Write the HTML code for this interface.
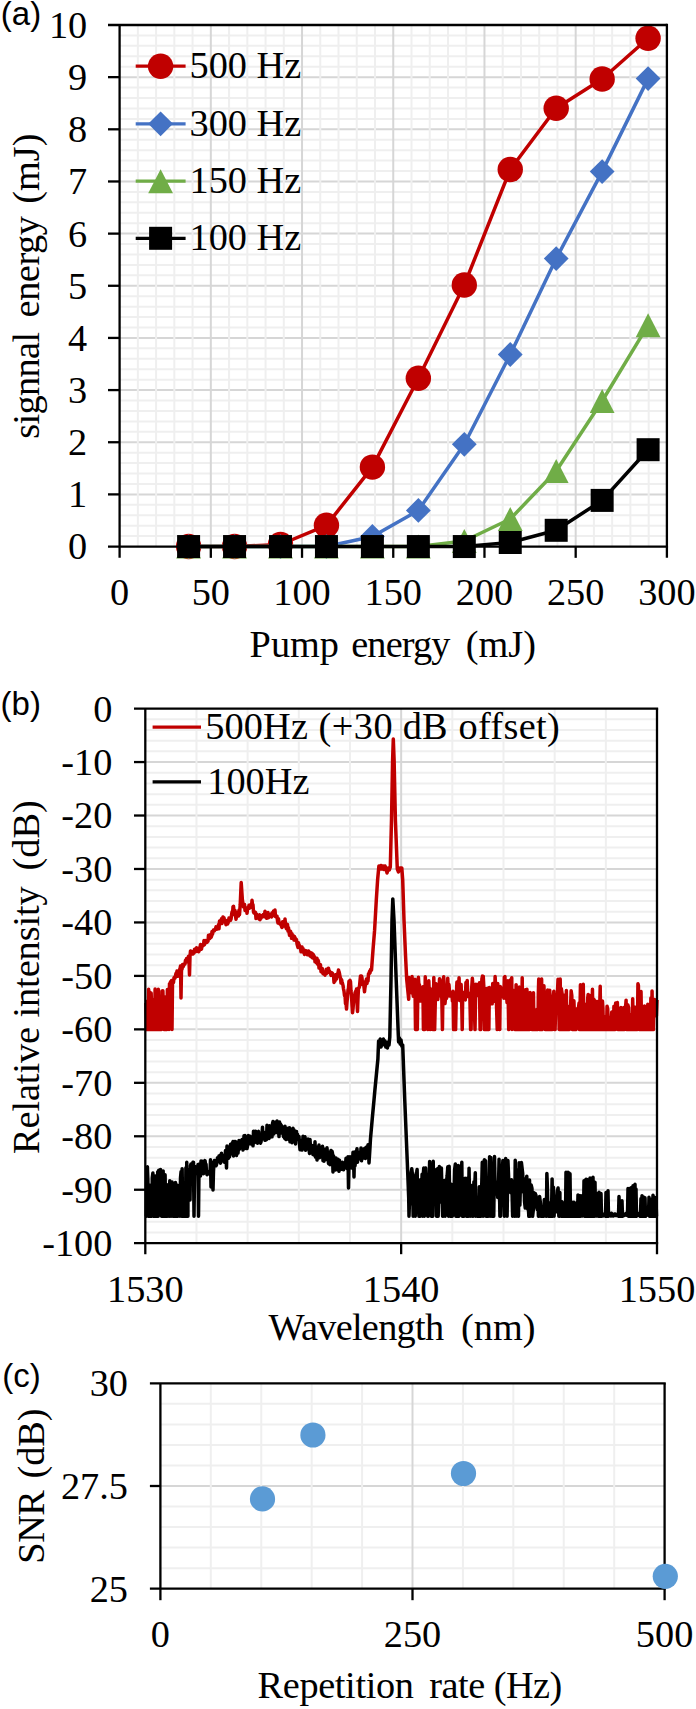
<!DOCTYPE html>
<html><head><meta charset="utf-8"><style>
html,body{margin:0;padding:0;background:#fff;width:696px;height:1709px;overflow:hidden}
svg{display:block}
text{fill:#000}
</style></head><body>
<svg width="696" height="1709" viewBox="0 0 696 1709">
<rect width="696" height="1709" fill="#fff"/>
<line x1="119.6" y1="536.12" x2="666.9" y2="536.12" stroke="#efefef" stroke-width="2.0" stroke-linecap="butt"/>
<line x1="119.6" y1="525.69" x2="666.9" y2="525.69" stroke="#efefef" stroke-width="2.0" stroke-linecap="butt"/>
<line x1="119.6" y1="515.26" x2="666.9" y2="515.26" stroke="#efefef" stroke-width="2.0" stroke-linecap="butt"/>
<line x1="119.6" y1="504.83" x2="666.9" y2="504.83" stroke="#efefef" stroke-width="2.0" stroke-linecap="butt"/>
<line x1="119.6" y1="483.96" x2="666.9" y2="483.96" stroke="#efefef" stroke-width="2.0" stroke-linecap="butt"/>
<line x1="119.6" y1="473.53" x2="666.9" y2="473.53" stroke="#efefef" stroke-width="2.0" stroke-linecap="butt"/>
<line x1="119.6" y1="463.1" x2="666.9" y2="463.1" stroke="#efefef" stroke-width="2.0" stroke-linecap="butt"/>
<line x1="119.6" y1="452.67" x2="666.9" y2="452.67" stroke="#efefef" stroke-width="2.0" stroke-linecap="butt"/>
<line x1="119.6" y1="431.81" x2="666.9" y2="431.81" stroke="#efefef" stroke-width="2.0" stroke-linecap="butt"/>
<line x1="119.6" y1="421.38" x2="666.9" y2="421.38" stroke="#efefef" stroke-width="2.0" stroke-linecap="butt"/>
<line x1="119.6" y1="410.95" x2="666.9" y2="410.95" stroke="#efefef" stroke-width="2.0" stroke-linecap="butt"/>
<line x1="119.6" y1="400.52" x2="666.9" y2="400.52" stroke="#efefef" stroke-width="2.0" stroke-linecap="butt"/>
<line x1="119.6" y1="379.65" x2="666.9" y2="379.65" stroke="#efefef" stroke-width="2.0" stroke-linecap="butt"/>
<line x1="119.6" y1="369.22" x2="666.9" y2="369.22" stroke="#efefef" stroke-width="2.0" stroke-linecap="butt"/>
<line x1="119.6" y1="358.79" x2="666.9" y2="358.79" stroke="#efefef" stroke-width="2.0" stroke-linecap="butt"/>
<line x1="119.6" y1="348.36" x2="666.9" y2="348.36" stroke="#efefef" stroke-width="2.0" stroke-linecap="butt"/>
<line x1="119.6" y1="327.5" x2="666.9" y2="327.5" stroke="#efefef" stroke-width="2.0" stroke-linecap="butt"/>
<line x1="119.6" y1="317.07" x2="666.9" y2="317.07" stroke="#efefef" stroke-width="2.0" stroke-linecap="butt"/>
<line x1="119.6" y1="306.64" x2="666.9" y2="306.64" stroke="#efefef" stroke-width="2.0" stroke-linecap="butt"/>
<line x1="119.6" y1="296.21" x2="666.9" y2="296.21" stroke="#efefef" stroke-width="2.0" stroke-linecap="butt"/>
<line x1="119.6" y1="275.34" x2="666.9" y2="275.34" stroke="#efefef" stroke-width="2.0" stroke-linecap="butt"/>
<line x1="119.6" y1="264.91" x2="666.9" y2="264.91" stroke="#efefef" stroke-width="2.0" stroke-linecap="butt"/>
<line x1="119.6" y1="254.48" x2="666.9" y2="254.48" stroke="#efefef" stroke-width="2.0" stroke-linecap="butt"/>
<line x1="119.6" y1="244.05" x2="666.9" y2="244.05" stroke="#efefef" stroke-width="2.0" stroke-linecap="butt"/>
<line x1="119.6" y1="223.19" x2="666.9" y2="223.19" stroke="#efefef" stroke-width="2.0" stroke-linecap="butt"/>
<line x1="119.6" y1="212.76" x2="666.9" y2="212.76" stroke="#efefef" stroke-width="2.0" stroke-linecap="butt"/>
<line x1="119.6" y1="202.33" x2="666.9" y2="202.33" stroke="#efefef" stroke-width="2.0" stroke-linecap="butt"/>
<line x1="119.6" y1="191.9" x2="666.9" y2="191.9" stroke="#efefef" stroke-width="2.0" stroke-linecap="butt"/>
<line x1="119.6" y1="171.03" x2="666.9" y2="171.03" stroke="#efefef" stroke-width="2.0" stroke-linecap="butt"/>
<line x1="119.6" y1="160.6" x2="666.9" y2="160.6" stroke="#efefef" stroke-width="2.0" stroke-linecap="butt"/>
<line x1="119.6" y1="150.17" x2="666.9" y2="150.17" stroke="#efefef" stroke-width="2.0" stroke-linecap="butt"/>
<line x1="119.6" y1="139.74" x2="666.9" y2="139.74" stroke="#efefef" stroke-width="2.0" stroke-linecap="butt"/>
<line x1="119.6" y1="118.88" x2="666.9" y2="118.88" stroke="#efefef" stroke-width="2.0" stroke-linecap="butt"/>
<line x1="119.6" y1="108.45" x2="666.9" y2="108.45" stroke="#efefef" stroke-width="2.0" stroke-linecap="butt"/>
<line x1="119.6" y1="98.02" x2="666.9" y2="98.02" stroke="#efefef" stroke-width="2.0" stroke-linecap="butt"/>
<line x1="119.6" y1="87.59" x2="666.9" y2="87.59" stroke="#efefef" stroke-width="2.0" stroke-linecap="butt"/>
<line x1="119.6" y1="66.72" x2="666.9" y2="66.72" stroke="#efefef" stroke-width="2.0" stroke-linecap="butt"/>
<line x1="119.6" y1="56.29" x2="666.9" y2="56.29" stroke="#efefef" stroke-width="2.0" stroke-linecap="butt"/>
<line x1="119.6" y1="45.86" x2="666.9" y2="45.86" stroke="#efefef" stroke-width="2.0" stroke-linecap="butt"/>
<line x1="119.6" y1="35.43" x2="666.9" y2="35.43" stroke="#efefef" stroke-width="2.0" stroke-linecap="butt"/>
<line x1="119.6" y1="494.39" x2="666.9" y2="494.39" stroke="#d6d6d6" stroke-width="2.0" stroke-linecap="butt"/>
<line x1="119.6" y1="442.24" x2="666.9" y2="442.24" stroke="#d6d6d6" stroke-width="2.0" stroke-linecap="butt"/>
<line x1="119.6" y1="390.08" x2="666.9" y2="390.08" stroke="#d6d6d6" stroke-width="2.0" stroke-linecap="butt"/>
<line x1="119.6" y1="337.93" x2="666.9" y2="337.93" stroke="#d6d6d6" stroke-width="2.0" stroke-linecap="butt"/>
<line x1="119.6" y1="285.77" x2="666.9" y2="285.77" stroke="#d6d6d6" stroke-width="2.0" stroke-linecap="butt"/>
<line x1="119.6" y1="233.62" x2="666.9" y2="233.62" stroke="#d6d6d6" stroke-width="2.0" stroke-linecap="butt"/>
<line x1="119.6" y1="181.47" x2="666.9" y2="181.47" stroke="#d6d6d6" stroke-width="2.0" stroke-linecap="butt"/>
<line x1="119.6" y1="129.31" x2="666.9" y2="129.31" stroke="#d6d6d6" stroke-width="2.0" stroke-linecap="butt"/>
<line x1="119.6" y1="77.15" x2="666.9" y2="77.15" stroke="#d6d6d6" stroke-width="2.0" stroke-linecap="butt"/>
<line x1="137.84" y1="25" x2="137.84" y2="546.55" stroke="#efefef" stroke-width="2.0" stroke-linecap="butt"/>
<line x1="156.09" y1="25" x2="156.09" y2="546.55" stroke="#efefef" stroke-width="2.0" stroke-linecap="butt"/>
<line x1="174.33" y1="25" x2="174.33" y2="546.55" stroke="#efefef" stroke-width="2.0" stroke-linecap="butt"/>
<line x1="192.57" y1="25" x2="192.57" y2="546.55" stroke="#efefef" stroke-width="2.0" stroke-linecap="butt"/>
<line x1="229.06" y1="25" x2="229.06" y2="546.55" stroke="#efefef" stroke-width="2.0" stroke-linecap="butt"/>
<line x1="247.3" y1="25" x2="247.3" y2="546.55" stroke="#efefef" stroke-width="2.0" stroke-linecap="butt"/>
<line x1="265.55" y1="25" x2="265.55" y2="546.55" stroke="#efefef" stroke-width="2.0" stroke-linecap="butt"/>
<line x1="283.79" y1="25" x2="283.79" y2="546.55" stroke="#efefef" stroke-width="2.0" stroke-linecap="butt"/>
<line x1="320.28" y1="25" x2="320.28" y2="546.55" stroke="#efefef" stroke-width="2.0" stroke-linecap="butt"/>
<line x1="338.52" y1="25" x2="338.52" y2="546.55" stroke="#efefef" stroke-width="2.0" stroke-linecap="butt"/>
<line x1="356.76" y1="25" x2="356.76" y2="546.55" stroke="#efefef" stroke-width="2.0" stroke-linecap="butt"/>
<line x1="375.01" y1="25" x2="375.01" y2="546.55" stroke="#efefef" stroke-width="2.0" stroke-linecap="butt"/>
<line x1="411.49" y1="25" x2="411.49" y2="546.55" stroke="#efefef" stroke-width="2.0" stroke-linecap="butt"/>
<line x1="429.74" y1="25" x2="429.74" y2="546.55" stroke="#efefef" stroke-width="2.0" stroke-linecap="butt"/>
<line x1="447.98" y1="25" x2="447.98" y2="546.55" stroke="#efefef" stroke-width="2.0" stroke-linecap="butt"/>
<line x1="466.22" y1="25" x2="466.22" y2="546.55" stroke="#efefef" stroke-width="2.0" stroke-linecap="butt"/>
<line x1="502.71" y1="25" x2="502.71" y2="546.55" stroke="#efefef" stroke-width="2.0" stroke-linecap="butt"/>
<line x1="520.95" y1="25" x2="520.95" y2="546.55" stroke="#efefef" stroke-width="2.0" stroke-linecap="butt"/>
<line x1="539.2" y1="25" x2="539.2" y2="546.55" stroke="#efefef" stroke-width="2.0" stroke-linecap="butt"/>
<line x1="557.44" y1="25" x2="557.44" y2="546.55" stroke="#efefef" stroke-width="2.0" stroke-linecap="butt"/>
<line x1="593.93" y1="25" x2="593.93" y2="546.55" stroke="#efefef" stroke-width="2.0" stroke-linecap="butt"/>
<line x1="612.17" y1="25" x2="612.17" y2="546.55" stroke="#efefef" stroke-width="2.0" stroke-linecap="butt"/>
<line x1="630.41" y1="25" x2="630.41" y2="546.55" stroke="#efefef" stroke-width="2.0" stroke-linecap="butt"/>
<line x1="648.66" y1="25" x2="648.66" y2="546.55" stroke="#efefef" stroke-width="2.0" stroke-linecap="butt"/>
<line x1="210.82" y1="25" x2="210.82" y2="546.55" stroke="#d6d6d6" stroke-width="2.0" stroke-linecap="butt"/>
<line x1="302.03" y1="25" x2="302.03" y2="546.55" stroke="#d6d6d6" stroke-width="2.0" stroke-linecap="butt"/>
<line x1="393.25" y1="25" x2="393.25" y2="546.55" stroke="#d6d6d6" stroke-width="2.0" stroke-linecap="butt"/>
<line x1="484.47" y1="25" x2="484.47" y2="546.55" stroke="#d6d6d6" stroke-width="2.0" stroke-linecap="butt"/>
<line x1="575.68" y1="25" x2="575.68" y2="546.55" stroke="#d6d6d6" stroke-width="2.0" stroke-linecap="butt"/>
<path d="M188.6,546.55 L234.55,546.55 L280.5,544.5 L326.45,525.3 L372.4,467.1 L418.35,378.3 L464.3,285 L510.25,169.5 L556.2,108.3 L602.15,79 L648.1,38.2" fill="none" stroke="#c00000" stroke-width="3.5" stroke-linejoin="round"/>
<circle cx="188.6" cy="546.55" r="12.7" fill="#c00000"/>
<circle cx="234.55" cy="546.55" r="12.7" fill="#c00000"/>
<circle cx="280.5" cy="544.5" r="12.7" fill="#c00000"/>
<circle cx="326.45" cy="525.3" r="12.7" fill="#c00000"/>
<circle cx="372.4" cy="467.1" r="12.7" fill="#c00000"/>
<circle cx="418.35" cy="378.3" r="12.7" fill="#c00000"/>
<circle cx="464.3" cy="285" r="12.7" fill="#c00000"/>
<circle cx="510.25" cy="169.5" r="12.7" fill="#c00000"/>
<circle cx="556.2" cy="108.3" r="12.7" fill="#c00000"/>
<circle cx="602.15" cy="79" r="12.7" fill="#c00000"/>
<circle cx="648.1" cy="38.2" r="12.7" fill="#c00000"/>
<path d="M188.6,546.55 L234.55,546.55 L280.5,546.55 L326.45,546.55 L372.4,536.5 L418.35,510.4 L464.3,444.3 L510.25,354.5 L556.2,258.6 L602.15,171.6 L648.1,78.6" fill="none" stroke="#4472c4" stroke-width="3.5" stroke-linejoin="round"/>
<path d="M188.6,534.15 L201,546.55 L188.6,558.95 L176.2,546.55Z" fill="#4472c4"/>
<path d="M234.55,534.15 L246.95,546.55 L234.55,558.95 L222.15,546.55Z" fill="#4472c4"/>
<path d="M280.5,534.15 L292.9,546.55 L280.5,558.95 L268.1,546.55Z" fill="#4472c4"/>
<path d="M326.45,534.15 L338.85,546.55 L326.45,558.95 L314.05,546.55Z" fill="#4472c4"/>
<path d="M372.4,524.1 L384.8,536.5 L372.4,548.9 L360,536.5Z" fill="#4472c4"/>
<path d="M418.35,498 L430.75,510.4 L418.35,522.8 L405.95,510.4Z" fill="#4472c4"/>
<path d="M464.3,431.9 L476.7,444.3 L464.3,456.7 L451.9,444.3Z" fill="#4472c4"/>
<path d="M510.25,342.1 L522.65,354.5 L510.25,366.9 L497.85,354.5Z" fill="#4472c4"/>
<path d="M556.2,246.2 L568.6,258.6 L556.2,271 L543.8,258.6Z" fill="#4472c4"/>
<path d="M602.15,159.2 L614.55,171.6 L602.15,184 L589.75,171.6Z" fill="#4472c4"/>
<path d="M648.1,66.2 L660.5,78.6 L648.1,91 L635.7,78.6Z" fill="#4472c4"/>
<path d="M188.6,546.55 L234.55,546.55 L280.5,546.55 L326.45,546.55 L372.4,546.55 L418.35,546.55 L464.3,541 L510.25,519 L556.2,471 L602.15,401 L648.1,325.2" fill="none" stroke="#70ad47" stroke-width="3.5" stroke-linejoin="round"/>
<path d="M188.6,534.55 L201,558.55 L176.2,558.55Z" fill="#70ad47"/>
<path d="M234.55,534.55 L246.95,558.55 L222.15,558.55Z" fill="#70ad47"/>
<path d="M280.5,534.55 L292.9,558.55 L268.1,558.55Z" fill="#70ad47"/>
<path d="M326.45,534.55 L338.85,558.55 L314.05,558.55Z" fill="#70ad47"/>
<path d="M372.4,534.55 L384.8,558.55 L360,558.55Z" fill="#70ad47"/>
<path d="M418.35,534.55 L430.75,558.55 L405.95,558.55Z" fill="#70ad47"/>
<path d="M464.3,529 L476.7,553 L451.9,553Z" fill="#70ad47"/>
<path d="M510.25,507 L522.65,531 L497.85,531Z" fill="#70ad47"/>
<path d="M556.2,459 L568.6,483 L543.8,483Z" fill="#70ad47"/>
<path d="M602.15,389 L614.55,413 L589.75,413Z" fill="#70ad47"/>
<path d="M648.1,313.2 L660.5,337.2 L635.7,337.2Z" fill="#70ad47"/>
<path d="M188.6,546.55 L234.55,546.55 L280.5,546.55 L326.45,546.55 L372.4,546.55 L418.35,546.55 L464.3,546.55 L510.25,542.5 L556.2,530.3 L602.15,500.4 L648.1,449.7" fill="none" stroke="#000000" stroke-width="3.5" stroke-linejoin="round"/>
<rect x="177.1" y="535.05" width="23" height="23" fill="#000000"/>
<rect x="223.05" y="535.05" width="23" height="23" fill="#000000"/>
<rect x="269" y="535.05" width="23" height="23" fill="#000000"/>
<rect x="314.95" y="535.05" width="23" height="23" fill="#000000"/>
<rect x="360.9" y="535.05" width="23" height="23" fill="#000000"/>
<rect x="406.85" y="535.05" width="23" height="23" fill="#000000"/>
<rect x="452.8" y="535.05" width="23" height="23" fill="#000000"/>
<rect x="498.75" y="531" width="23" height="23" fill="#000000"/>
<rect x="544.7" y="518.8" width="23" height="23" fill="#000000"/>
<rect x="590.65" y="488.9" width="23" height="23" fill="#000000"/>
<rect x="636.6" y="438.2" width="23" height="23" fill="#000000"/>
<line x1="119.6" y1="25" x2="119.6" y2="557.85" stroke="#000" stroke-width="2.3" stroke-linecap="butt"/>
<line x1="108" y1="25" x2="666.9" y2="25" stroke="#000" stroke-width="2.3" stroke-linecap="butt"/>
<line x1="666.9" y1="23.85" x2="666.9" y2="557.85" stroke="#000" stroke-width="2.3" stroke-linecap="butt"/>
<line x1="108" y1="546.55" x2="668.05" y2="546.55" stroke="#000" stroke-width="2.3" stroke-linecap="butt"/>
<line x1="108" y1="494.39" x2="119.6" y2="494.39" stroke="#000" stroke-width="2.3" stroke-linecap="butt"/>
<line x1="108" y1="442.24" x2="119.6" y2="442.24" stroke="#000" stroke-width="2.3" stroke-linecap="butt"/>
<line x1="108" y1="390.08" x2="119.6" y2="390.08" stroke="#000" stroke-width="2.3" stroke-linecap="butt"/>
<line x1="108" y1="337.93" x2="119.6" y2="337.93" stroke="#000" stroke-width="2.3" stroke-linecap="butt"/>
<line x1="108" y1="285.77" x2="119.6" y2="285.77" stroke="#000" stroke-width="2.3" stroke-linecap="butt"/>
<line x1="108" y1="233.62" x2="119.6" y2="233.62" stroke="#000" stroke-width="2.3" stroke-linecap="butt"/>
<line x1="108" y1="181.47" x2="119.6" y2="181.47" stroke="#000" stroke-width="2.3" stroke-linecap="butt"/>
<line x1="108" y1="129.31" x2="119.6" y2="129.31" stroke="#000" stroke-width="2.3" stroke-linecap="butt"/>
<line x1="108" y1="77.15" x2="119.6" y2="77.15" stroke="#000" stroke-width="2.3" stroke-linecap="butt"/>
<line x1="210.82" y1="546.55" x2="210.82" y2="557.85" stroke="#000" stroke-width="2.3" stroke-linecap="butt"/>
<line x1="302.03" y1="546.55" x2="302.03" y2="557.85" stroke="#000" stroke-width="2.3" stroke-linecap="butt"/>
<line x1="393.25" y1="546.55" x2="393.25" y2="557.85" stroke="#000" stroke-width="2.3" stroke-linecap="butt"/>
<line x1="484.47" y1="546.55" x2="484.47" y2="557.85" stroke="#000" stroke-width="2.3" stroke-linecap="butt"/>
<line x1="575.68" y1="546.55" x2="575.68" y2="557.85" stroke="#000" stroke-width="2.3" stroke-linecap="butt"/>
<line x1="135.7" y1="66.2" x2="185.6" y2="66.2" stroke="#c00000" stroke-width="3.2" stroke-linecap="butt"/>
<circle cx="160.6" cy="66.2" r="12.7" fill="#c00000"/>
<text x="189.5" y="78.2" font-size="38.3" text-anchor="start" font-family='"Liberation Serif", serif'>500 Hz</text>
<line x1="135.7" y1="123.8" x2="185.6" y2="123.8" stroke="#4472c4" stroke-width="3.2" stroke-linecap="butt"/>
<path d="M160.6,111.4 L173,123.8 L160.6,136.2 L148.2,123.8Z" fill="#4472c4"/>
<text x="189.5" y="135.8" font-size="38.3" text-anchor="start" font-family='"Liberation Serif", serif'>300 Hz</text>
<line x1="135.7" y1="181.2" x2="185.6" y2="181.2" stroke="#70ad47" stroke-width="3.2" stroke-linecap="butt"/>
<path d="M160.6,169.2 L173,193.2 L148.2,193.2Z" fill="#70ad47"/>
<text x="189.5" y="193.2" font-size="38.3" text-anchor="start" font-family='"Liberation Serif", serif'>150 Hz</text>
<line x1="135.7" y1="238.3" x2="185.6" y2="238.3" stroke="#000000" stroke-width="3.2" stroke-linecap="butt"/>
<rect x="149.1" y="226.8" width="23" height="23" fill="#000000"/>
<text x="189.5" y="250.1" font-size="38.3" text-anchor="start" font-family='"Liberation Serif", serif'>100 Hz</text>
<text x="87.2" y="559.45" font-size="38.3" text-anchor="end" font-family='"Liberation Serif", serif'>0</text>
<text x="87.2" y="507.29" font-size="38.3" text-anchor="end" font-family='"Liberation Serif", serif'>1</text>
<text x="87.2" y="455.14" font-size="38.3" text-anchor="end" font-family='"Liberation Serif", serif'>2</text>
<text x="87.2" y="402.98" font-size="38.3" text-anchor="end" font-family='"Liberation Serif", serif'>3</text>
<text x="87.2" y="350.83" font-size="38.3" text-anchor="end" font-family='"Liberation Serif", serif'>4</text>
<text x="87.2" y="298.67" font-size="38.3" text-anchor="end" font-family='"Liberation Serif", serif'>5</text>
<text x="87.2" y="246.52" font-size="38.3" text-anchor="end" font-family='"Liberation Serif", serif'>6</text>
<text x="87.2" y="194.37" font-size="38.3" text-anchor="end" font-family='"Liberation Serif", serif'>7</text>
<text x="87.2" y="142.21" font-size="38.3" text-anchor="end" font-family='"Liberation Serif", serif'>8</text>
<text x="87.2" y="90.05" font-size="38.3" text-anchor="end" font-family='"Liberation Serif", serif'>9</text>
<text x="87.2" y="37.9" font-size="38.3" text-anchor="end" font-family='"Liberation Serif", serif'>10</text>
<text x="119.6" y="604.85" font-size="38.3" text-anchor="middle" font-family='"Liberation Serif", serif'>0</text>
<text x="210.82" y="604.85" font-size="38.3" text-anchor="middle" font-family='"Liberation Serif", serif'>50</text>
<text x="302.03" y="604.85" font-size="38.3" text-anchor="middle" font-family='"Liberation Serif", serif'>100</text>
<text x="393.25" y="604.85" font-size="38.3" text-anchor="middle" font-family='"Liberation Serif", serif'>150</text>
<text x="484.47" y="604.85" font-size="38.3" text-anchor="middle" font-family='"Liberation Serif", serif'>200</text>
<text x="575.68" y="604.85" font-size="38.3" text-anchor="middle" font-family='"Liberation Serif", serif'>250</text>
<text x="666.9" y="604.85" font-size="38.3" text-anchor="middle" font-family='"Liberation Serif", serif'>300</text>
<text x="249.6" y="656.5" font-size="38.3" text-anchor="start" font-family='"Liberation Serif", serif'>Pump</text>
<text x="351.2" y="656.5" font-size="38.3" text-anchor="start" font-family='"Liberation Serif", serif' letter-spacing="-0.84">energy</text>
<text x="465.7" y="656.5" font-size="38.3" text-anchor="start" font-family='"Liberation Serif", serif'>(mJ)</text>
<g transform="translate(39.2,438.7) rotate(-90)">
<text x="0" y="0" font-size="38.3" text-anchor="start" font-family='"Liberation Serif", serif' letter-spacing="-0.65">signnal</text>
</g>
<g transform="translate(39.2,317.4) rotate(-90)">
<text x="0" y="0" font-size="38.3" text-anchor="start" font-family='"Liberation Serif", serif' letter-spacing="-0.44">energy</text>
</g>
<g transform="translate(39.2,203.8) rotate(-90)">
<text x="0" y="0" font-size="38.3" text-anchor="start" font-family='"Liberation Serif", serif'>(mJ)</text>
</g>
<text x="0.85" y="24.9" font-size="33" text-anchor="start" font-family='"Liberation Sans", sans-serif'>(a)</text>
<line x1="145.3" y1="719.29" x2="657" y2="719.29" stroke="#efefef" stroke-width="2.0" stroke-linecap="butt"/>
<line x1="145.3" y1="729.98" x2="657" y2="729.98" stroke="#efefef" stroke-width="2.0" stroke-linecap="butt"/>
<line x1="145.3" y1="740.68" x2="657" y2="740.68" stroke="#efefef" stroke-width="2.0" stroke-linecap="butt"/>
<line x1="145.3" y1="751.37" x2="657" y2="751.37" stroke="#efefef" stroke-width="2.0" stroke-linecap="butt"/>
<line x1="145.3" y1="772.75" x2="657" y2="772.75" stroke="#efefef" stroke-width="2.0" stroke-linecap="butt"/>
<line x1="145.3" y1="783.44" x2="657" y2="783.44" stroke="#efefef" stroke-width="2.0" stroke-linecap="butt"/>
<line x1="145.3" y1="794.14" x2="657" y2="794.14" stroke="#efefef" stroke-width="2.0" stroke-linecap="butt"/>
<line x1="145.3" y1="804.83" x2="657" y2="804.83" stroke="#efefef" stroke-width="2.0" stroke-linecap="butt"/>
<line x1="145.3" y1="826.21" x2="657" y2="826.21" stroke="#efefef" stroke-width="2.0" stroke-linecap="butt"/>
<line x1="145.3" y1="836.9" x2="657" y2="836.9" stroke="#efefef" stroke-width="2.0" stroke-linecap="butt"/>
<line x1="145.3" y1="847.6" x2="657" y2="847.6" stroke="#efefef" stroke-width="2.0" stroke-linecap="butt"/>
<line x1="145.3" y1="858.29" x2="657" y2="858.29" stroke="#efefef" stroke-width="2.0" stroke-linecap="butt"/>
<line x1="145.3" y1="879.67" x2="657" y2="879.67" stroke="#efefef" stroke-width="2.0" stroke-linecap="butt"/>
<line x1="145.3" y1="890.36" x2="657" y2="890.36" stroke="#efefef" stroke-width="2.0" stroke-linecap="butt"/>
<line x1="145.3" y1="901.06" x2="657" y2="901.06" stroke="#efefef" stroke-width="2.0" stroke-linecap="butt"/>
<line x1="145.3" y1="911.75" x2="657" y2="911.75" stroke="#efefef" stroke-width="2.0" stroke-linecap="butt"/>
<line x1="145.3" y1="933.13" x2="657" y2="933.13" stroke="#efefef" stroke-width="2.0" stroke-linecap="butt"/>
<line x1="145.3" y1="943.82" x2="657" y2="943.82" stroke="#efefef" stroke-width="2.0" stroke-linecap="butt"/>
<line x1="145.3" y1="954.52" x2="657" y2="954.52" stroke="#efefef" stroke-width="2.0" stroke-linecap="butt"/>
<line x1="145.3" y1="965.21" x2="657" y2="965.21" stroke="#efefef" stroke-width="2.0" stroke-linecap="butt"/>
<line x1="145.3" y1="986.59" x2="657" y2="986.59" stroke="#efefef" stroke-width="2.0" stroke-linecap="butt"/>
<line x1="145.3" y1="997.28" x2="657" y2="997.28" stroke="#efefef" stroke-width="2.0" stroke-linecap="butt"/>
<line x1="145.3" y1="1007.98" x2="657" y2="1007.98" stroke="#efefef" stroke-width="2.0" stroke-linecap="butt"/>
<line x1="145.3" y1="1018.67" x2="657" y2="1018.67" stroke="#efefef" stroke-width="2.0" stroke-linecap="butt"/>
<line x1="145.3" y1="1040.05" x2="657" y2="1040.05" stroke="#efefef" stroke-width="2.0" stroke-linecap="butt"/>
<line x1="145.3" y1="1050.74" x2="657" y2="1050.74" stroke="#efefef" stroke-width="2.0" stroke-linecap="butt"/>
<line x1="145.3" y1="1061.44" x2="657" y2="1061.44" stroke="#efefef" stroke-width="2.0" stroke-linecap="butt"/>
<line x1="145.3" y1="1072.13" x2="657" y2="1072.13" stroke="#efefef" stroke-width="2.0" stroke-linecap="butt"/>
<line x1="145.3" y1="1093.51" x2="657" y2="1093.51" stroke="#efefef" stroke-width="2.0" stroke-linecap="butt"/>
<line x1="145.3" y1="1104.2" x2="657" y2="1104.2" stroke="#efefef" stroke-width="2.0" stroke-linecap="butt"/>
<line x1="145.3" y1="1114.9" x2="657" y2="1114.9" stroke="#efefef" stroke-width="2.0" stroke-linecap="butt"/>
<line x1="145.3" y1="1125.59" x2="657" y2="1125.59" stroke="#efefef" stroke-width="2.0" stroke-linecap="butt"/>
<line x1="145.3" y1="1146.97" x2="657" y2="1146.97" stroke="#efefef" stroke-width="2.0" stroke-linecap="butt"/>
<line x1="145.3" y1="1157.66" x2="657" y2="1157.66" stroke="#efefef" stroke-width="2.0" stroke-linecap="butt"/>
<line x1="145.3" y1="1168.36" x2="657" y2="1168.36" stroke="#efefef" stroke-width="2.0" stroke-linecap="butt"/>
<line x1="145.3" y1="1179.05" x2="657" y2="1179.05" stroke="#efefef" stroke-width="2.0" stroke-linecap="butt"/>
<line x1="145.3" y1="1200.43" x2="657" y2="1200.43" stroke="#efefef" stroke-width="2.0" stroke-linecap="butt"/>
<line x1="145.3" y1="1211.12" x2="657" y2="1211.12" stroke="#efefef" stroke-width="2.0" stroke-linecap="butt"/>
<line x1="145.3" y1="1221.82" x2="657" y2="1221.82" stroke="#efefef" stroke-width="2.0" stroke-linecap="butt"/>
<line x1="145.3" y1="1232.51" x2="657" y2="1232.51" stroke="#efefef" stroke-width="2.0" stroke-linecap="butt"/>
<line x1="145.3" y1="762.06" x2="657" y2="762.06" stroke="#d6d6d6" stroke-width="2.0" stroke-linecap="butt"/>
<line x1="145.3" y1="815.52" x2="657" y2="815.52" stroke="#d6d6d6" stroke-width="2.0" stroke-linecap="butt"/>
<line x1="145.3" y1="868.98" x2="657" y2="868.98" stroke="#d6d6d6" stroke-width="2.0" stroke-linecap="butt"/>
<line x1="145.3" y1="922.44" x2="657" y2="922.44" stroke="#d6d6d6" stroke-width="2.0" stroke-linecap="butt"/>
<line x1="145.3" y1="975.9" x2="657" y2="975.9" stroke="#d6d6d6" stroke-width="2.0" stroke-linecap="butt"/>
<line x1="145.3" y1="1029.36" x2="657" y2="1029.36" stroke="#d6d6d6" stroke-width="2.0" stroke-linecap="butt"/>
<line x1="145.3" y1="1082.82" x2="657" y2="1082.82" stroke="#d6d6d6" stroke-width="2.0" stroke-linecap="butt"/>
<line x1="145.3" y1="1136.28" x2="657" y2="1136.28" stroke="#d6d6d6" stroke-width="2.0" stroke-linecap="butt"/>
<line x1="145.3" y1="1189.74" x2="657" y2="1189.74" stroke="#d6d6d6" stroke-width="2.0" stroke-linecap="butt"/>
<line x1="196.47" y1="708.6" x2="196.47" y2="1243.2" stroke="#efefef" stroke-width="2.0" stroke-linecap="butt"/>
<line x1="247.64" y1="708.6" x2="247.64" y2="1243.2" stroke="#efefef" stroke-width="2.0" stroke-linecap="butt"/>
<line x1="298.81" y1="708.6" x2="298.81" y2="1243.2" stroke="#efefef" stroke-width="2.0" stroke-linecap="butt"/>
<line x1="349.98" y1="708.6" x2="349.98" y2="1243.2" stroke="#efefef" stroke-width="2.0" stroke-linecap="butt"/>
<line x1="452.32" y1="708.6" x2="452.32" y2="1243.2" stroke="#efefef" stroke-width="2.0" stroke-linecap="butt"/>
<line x1="503.49" y1="708.6" x2="503.49" y2="1243.2" stroke="#efefef" stroke-width="2.0" stroke-linecap="butt"/>
<line x1="554.66" y1="708.6" x2="554.66" y2="1243.2" stroke="#efefef" stroke-width="2.0" stroke-linecap="butt"/>
<line x1="605.83" y1="708.6" x2="605.83" y2="1243.2" stroke="#efefef" stroke-width="2.0" stroke-linecap="butt"/>
<line x1="401.15" y1="708.6" x2="401.15" y2="1243.2" stroke="#d6d6d6" stroke-width="2.0" stroke-linecap="butt"/>
<path d="M145.3,1003.09 L145.89,1003.06 L146.52,1029.6 L147,1001.33 L147.63,1029.6 L148.12,1029.6 L148.63,989.25 L149.04,1029.6 L149.67,992.03 L150.26,1029.6 L150.79,1029.6 L151.14,992.98 L151.56,1005.58 L152,999.25 L152.55,1029.6 L153.18,1007.36 L153.8,1029.6 L154.26,1029.6 L154.65,1029.6 L155.09,989.06 L155.64,1029.6 L156.09,998.13 L156.53,1029.6 L157.09,1029.6 L157.74,1029.6 L158.31,989.34 L158.9,1029.6 L159.42,1029.6 L159.79,1029.6 L160.42,1029.6 L161,1006.9 L161.45,1029.6 L161.96,991.05 L162.53,1005.33 L162.89,990.73 L163.35,1006.44 L163.8,999.36 L164.24,1029.6 L164.65,1029.6 L165.04,1007.94 L165.44,1029.6 L166.09,996.71 L166.51,1004.7 L166.99,1029.6 L167.36,989.62 L167.86,991.48 L168,993.42 L168.5,989.87 L169,1029.6 L169.5,983.64 L170,985 L170.5,981.71 L171,985.87 L171.5,980.57 L172,1029.6 L172.5,984.04 L173,982.18 L173.5,982.37 L174,977.65 L174.5,977.16 L175,978.24 L175.5,975.59 L176,973.41 L176.5,973.64 L177,971.06 L177.5,972.19 L178,976.21 L178.5,975.37 L179,972.21 L179.5,970.62 L180,968.77 L180.5,966 L181,998 L181.5,969.52 L182,969.29 L182.5,964.57 L183,966.92 L183.5,965.96 L184,964.48 L184.5,963.68 L185,963.85 L185.5,960.27 L186,962.3 L186.5,958.52 L187,959.52 L187.5,961.11 L188,959.95 L188.5,956.18 L189,960.39 L189.5,975 L190,956.11 L190.5,951.04 L191,954.36 L191.5,951.36 L192,953.8 L192.5,951.78 L193,954.03 L193.5,952.31 L194,953.01 L194.5,949.16 L195,950.97 L195.5,951.24 L196,951.49 L196.5,947.67 L197,951.23 L197.5,951.25 L198,949.68 L198.5,951.68 L199,951.34 L199.5,947.83 L200,947.72 L200.5,944.4 L201,948.93 L201.5,949.14 L202,945.08 L202.5,946.14 L203,945.79 L203.5,945.31 L204,940.51 L204.5,944.68 L205,942.71 L205.5,942.91 L206,940.6 L206.5,941.69 L207,942.39 L207.5,940.89 L208,941.08 L208.5,935.26 L209,935.72 L209.5,937.3 L210,938.34 L210.5,934.51 L211,937.51 L211.5,936.54 L212,931.52 L212.5,934.21 L213,931.77 L213.5,929.89 L214,929.91 L214.5,930.74 L215,929.13 L215.5,928.64 L216,926.87 L216.5,929.34 L217,927.89 L217.5,928.85 L218,927.89 L218.5,924.41 L219,928.66 L219.5,921.01 L220,923.28 L220.5,921.58 L221,921.84 L221.5,918.85 L222,923.56 L222.5,919.34 L223,916.92 L223.5,921.45 L224,917.65 L224.5,921.21 L225,919.79 L225.5,921.76 L226,924.77 L226.5,923.85 L227,920.96 L227.5,924.1 L228,922.94 L228.5,921.01 L229,918.01 L229.5,920.18 L230,918.66 L230.5,920.38 L231,919.18 L231.5,915.18 L232,911.95 L232.5,914.79 L233,906.74 L233.5,906.28 L234,910.7 L234.5,912.58 L235,910.47 L235.5,915.68 L236,919.17 L236.5,916.76 L237,916.31 L237.5,913.3 L238,912.33 L238.5,916.05 L239,910.09 L239.5,914.5 L240.2,905 L241.2,882.5 L242.4,900 L243.5,907.1 L244,905.67 L244.5,904.32 L245,910.37 L245.5,907.97 L246,908.41 L246.5,908.73 L247,913.21 L247.5,909.3 L248,907.39 L248.5,908.25 L249,905.29 L249.5,908.32 L250,906.6 L250.5,904.73 L251,907.32 L251.5,906.81 L252,900.29 L252.5,904.35 L253,904.85 L253.5,911.8 L254,913.04 L254.5,911.59 L255,912.87 L255.5,912.42 L256,918.59 L256.5,914.05 L257,916.59 L257.5,915.99 L258,917.51 L258.5,917.56 L259,918.87 L259.5,914.83 L260,919.66 L260.5,916.77 L261,918.23 L261.5,916.35 L262,915.58 L262.5,916.71 L263,915.75 L263.5,914.53 L264,916.72 L264.5,915.14 L265,911.21 L265.5,912.98 L266,914.66 L266.5,918.14 L267,918.2 L267.5,916.06 L268,912.6 L268.5,917.67 L269,914.93 L269.5,915.69 L270,916.33 L270.5,915.52 L271,914.19 L271.5,916.91 L272,912.95 L272.5,912.71 L273,915.75 L273.5,911.11 L274,911.77 L274.5,915.46 L275,910.06 L275.5,916.63 L276,916.8 L276.5,916.14 L277,916.29 L277.5,920.92 L278,923 L278.5,918.8 L279,922.21 L279.5,923.62 L280,924.18 L280.5,923.92 L281,923.59 L281.5,926.4 L282,927.48 L282.5,921.78 L283,922.41 L283.5,926.04 L284,925.34 L284.5,923.95 L285,918.98 L285.5,924.65 L286,927.55 L286.5,928.8 L287,927.83 L287.5,924.37 L288,931.03 L288.5,927.78 L289,931.88 L289.5,935.13 L290,934.57 L290.5,931.33 L291,933.18 L291.5,938.29 L292,933.65 L292.5,937.62 L293,936.98 L293.5,935.94 L294,939.91 L294.5,936.6 L295,937.79 L295.5,940.42 L296,939.01 L296.5,939.61 L297,943.91 L297.5,945.75 L298,947.38 L298.5,942.85 L299,945.6 L299.5,945.46 L300,948.13 L300.5,948.03 L301,951.85 L301.5,948.57 L302,947.02 L302.5,951.93 L303,948.36 L303.5,951.97 L304,951.34 L304.5,954.42 L305,952.18 L305.5,952.9 L306,950.64 L306.5,952.91 L307,951.08 L307.5,954.8 L308,953.42 L308.5,950.99 L309,951.94 L309.5,953.15 L310,955.96 L310.5,952.45 L311,956.68 L311.5,956.76 L312,953.27 L312.5,957.84 L313,954.29 L313.5,955.02 L314,958.8 L314.5,956.8 L315,961.76 L315.5,959.48 L316,958.87 L316.5,962.81 L317,958.28 L317.5,964 L318,960.14 L318.5,961.66 L319,968.11 L319.5,967.05 L320,964.69 L320.5,964.78 L321,971.62 L321.5,970.31 L322,972.24 L322.5,968.63 L323,973.64 L323.5,973.36 L324,974.15 L324.5,973.98 L325,975.09 L325.5,972.38 L326,971.79 L326.5,969.19 L327,973.2 L327.5,971.07 L328,971.31 L328.5,968.23 L329,972.16 L329.5,970.82 L330,972.35 L330.5,973.21 L331,975.38 L331.5,973.97 L332,972.88 L332.5,973.43 L333,975.62 L333.5,975.48 L334,982.42 L334.5,980.17 L335,981.12 L335.5,974.8 L336,977.09 L336.5,979.03 L337,976.14 L337.5,973.8 L338,973.06 L338.5,970 L339,971.9 L339.5,973.44 L340,976.46 L340.5,978.05 L341,983.03 L341.5,979.44 L342,981.67 L342.5,983.56 L343,985.36 L343.5,988.85 L344,991.1 L344.5,995.44 L345,994.9 L345.5,1003.75 L346,1002.47 L346.5,1009.07 L347,1002.06 L347.5,996.72 L348,990.05 L348.5,988.12 L349,981.2 L349.5,983.93 L350,980.16 L350.5,981.72 L351,990.98 L351.5,995.89 L352,1005.03 L352.5,1012.67 L353,1008.86 L353.5,1002.55 L354,999.56 L354.5,998.32 L355,992.95 L355.5,991.48 L356,991.48 L356.5,989.08 L357,1001.93 L357.5,1011.53 L358,997.64 L358.5,988.18 L359,987.83 L359.5,986.33 L360,980.9 L360.5,976.01 L361,981.3 L361.5,976 L362,977.85 L362.5,984.36 L363,983.25 L363.5,982.17 L364,987.17 L364.5,991.73 L365,987.34 L365.5,984.42 L366,980.89 L366.5,979 L367,983.48 L367.5,979.32 L368,981.12 L368.5,973.64 L369,973.9 L369.5,971.55 L370,972.98 L370.5,969.62 L371,969.99 L371.5,970.05 L373,950 L374.6,930.2 L376.3,900 L377.6,880 L378.9,866 L380,869 L381,865.5 L382,869 L383,866 L384,869.5 L385,866 L386,868 L387,873 L388.5,868 L389.3,870 L390.3,867 L391.5,820 L392.6,760 L393.3,739 L394.1,760 L395.4,820 L397.3,869 L398.5,872 L400,868 L401.8,868 L402.7,880 L404,920 L405.5,955 L406.7,979.4 L408.7,999.3 L409,977.44 L409.47,981.02 L410.12,990.88 L410.61,979.02 L411.28,992.75 L412.07,976.49 L412.73,992 L413.33,996.32 L414.14,988.57 L414.92,979.24 L415.5,1029.6 L416.25,984.76 L416.76,1029.6 L417.31,1029.6 L417.93,982.87 L418.41,977.34 L418.95,986.47 L419.44,984.79 L420.19,1001.09 L420.9,992.09 L421.52,994.35 L422.35,995.63 L422.91,986.71 L423.42,1029.6 L423.94,994.93 L424.5,1029.6 L425.26,976.77 L425.73,986 L426.52,993.14 L427.07,986.15 L427.65,1029.6 L428.33,996.35 L428.83,980.79 L429.56,1002.28 L430.32,1029.6 L430.9,988.91 L431.53,997.49 L432.35,1003.15 L433.03,1029.6 L433.81,977.46 L434.64,1029.6 L435.32,1000.69 L435.93,983.76 L436.46,986 L437.21,985.85 L437.76,999.53 L438.55,987.22 L439.06,989.72 L439.53,978.76 L440.27,981.58 L441.03,995.12 L441.82,998.41 L442.43,1029.6 L443.08,981.17 L443.69,976.76 L444.26,989.33 L444.99,1003.51 L445.77,995.4 L446.48,998.36 L447.08,995.02 L447.74,978.18 L448.23,992.25 L448.98,984.59 L449.79,996.05 L450.28,994.76 L451.11,995.25 L451.89,993.11 L452.42,1001.09 L452.97,991.23 L453.58,1029.6 L454.19,994.29 L454.99,993.18 L455.6,1029.6 L456.32,996.03 L456.92,981.96 L457.5,993.42 L458.3,993.72 L459.06,977.76 L459.73,1000.6 L460.47,987.91 L461.13,984.47 L461.7,1003.06 L462.23,1029.6 L462.73,992.9 L463.25,992.65 L463.96,996.41 L464.44,999.37 L465.27,999.81 L465.97,982.41 L466.7,989.35 L467.19,980.39 L467.69,993.24 L468.18,996.61 L468.96,995.97 L469.77,993.5 L470.6,1029.6 L471.1,1029.6 L471.63,988.84 L472.35,978.35 L472.97,986.51 L473.47,986.48 L474.19,1002.96 L475.01,1029.6 L475.76,984.29 L476.26,985.92 L477.01,986.7 L477.57,995.51 L478.34,984.29 L478.92,990.54 L479.4,982.66 L480.11,1029.6 L480.67,1029.6 L481.31,991.16 L481.92,978.57 L482.51,976.14 L483.27,976.46 L483.82,986.72 L484.48,1029.6 L485.02,988.39 L485.66,1029.6 L486.22,995.24 L486.87,1029.6 L487.48,988.17 L488.17,994.06 L488.87,1029.6 L489.34,987.57 L490.13,1001.63 L490.73,997.17 L491.54,997.87 L492.16,1003.84 L492.7,983.59 L493.33,994.66 L493.84,988.81 L494.32,1001.13 L495.12,976.52 L495.9,992.77 L496.41,1001.77 L497.23,1029.6 L497.75,983.47 L498.5,997.71 L499.02,1003.3 L499.75,1029.6 L500.25,986.5 L500.84,992.29 L501.68,991.92 L502.23,996.48 L502.74,995.76 L503.2,987.73 L503.85,998.2 L504.33,977.07 L504.93,976.6 L505.5,994.34 L506.32,990.84 L507.05,1002.59 L507.89,980.67 L508.71,1029.6 L509.34,990.8 L509.95,984.38 L510.62,979.86 L511.21,991.85 L511.75,977.68 L512,1029.6 L512.43,990.89 L512.91,1003.35 L513.38,1000.4 L513.89,990.56 L514.37,995.62 L515.05,1029.6 L515.48,1029.6 L516.11,984.63 L516.5,997.27 L517.18,1029.6 L517.76,1029.6 L518.38,1000.51 L518.84,987.52 L519.24,987.09 L519.65,1029.6 L520.25,1003.51 L520.66,1006.74 L521.08,991.57 L521.57,1029.6 L522.2,977.73 L522.74,1029.6 L523.2,1029.6 L523.89,1029.6 L524.31,1029.6 L524.72,1029.6 L525.31,989.78 L525.74,1029.6 L526.35,1029.6 L526.93,989.16 L527.4,1029.6 L527.96,999.92 L528.57,1029.6 L529.21,993.23 L529.63,1029.6 L530.13,992.57 L530.73,1010.6 L531.15,994.53 L531.57,1007.77 L532.14,1029.6 L532.85,1029.6 L533.45,992.77 L533.97,1029.6 L534.38,1029.6 L535,1029.6 L535.68,1029.6 L536.16,1029.6 L536.86,1009.62 L537.41,1029.6 L537.93,1029.6 L538.32,993.99 L538.75,979.02 L539.44,1029.6 L539.86,989.58 L540.42,1029.6 L541.13,983.21 L541.61,978.97 L542.14,1029.6 L542.69,996.78 L543.28,995.38 L543.94,985.86 L544.34,999.12 L544.87,1001.98 L545.42,1029.6 L546.05,1029.6 L546.59,1002.94 L547.02,1029.6 L547.64,989.98 L548.35,1029.6 L548.79,1029.6 L549.32,1009.76 L549.76,990.25 L550.34,1029.6 L550.84,1029.6 L551.46,1029.6 L552.1,1029.6 L552.68,1000.49 L553.35,995.18 L553.85,991.35 L554.37,1029.6 L555.08,1029.6 L555.68,1006.25 L556.07,995.06 L556.73,997.21 L557.39,994.44 L558.02,979.29 L558.61,988.53 L559.16,1029.6 L559.8,1004.96 L560.2,978.97 L560.63,1029.6 L561.33,988.49 L561.99,992.89 L562.59,1029.6 L563.06,1029.6 L563.67,1003.7 L564.22,1029.6 L564.7,994.98 L565.29,997.37 L565.9,1029.6 L566.37,990.61 L566.77,1029.6 L567.41,1029.6 L567.95,1029.6 L568.6,1029.6 L569.15,1029.6 L569.8,1006.03 L570.46,1008.69 L571.13,990.7 L571.8,995.5 L572.21,1029.6 L572.63,1029.6 L573.04,1029.6 L573.43,1029.6 L573.91,1000.69 L574.35,1013.91 L574.97,1029.6 L575.48,1029.6 L576,1029.6 L576.54,1009.01 L577.21,1010.91 L577.88,1011.8 L578.4,1008.37 L579.08,1002.89 L579.53,1029.6 L579.99,1011.5 L580.44,984.84 L580.95,1029.6 L581.53,1029.6 L581.97,1029.6 L582.35,1029.6 L582.88,1029.6 L583.26,984.33 L583.92,1029.6 L584.61,1029.6 L585.05,1029.6 L585.45,1012 L586,1004.13 L586.68,1006.46 L587.13,1029.6 L587.66,998.62 L588.14,994.56 L588.7,1029.6 L589.31,995.35 L589.93,1029.6 L590.42,1013.25 L590.91,996.21 L591.47,1029.6 L592.06,1009.54 L592.46,989.24 L592.99,1029.6 L593.47,1029.6 L593.88,999.33 L594.36,1029.6 L594.84,1000.59 L595.26,1029.6 L595.96,1029.6 L596.45,1029.6 L597.06,1029.6 L597.48,1001.53 L598.09,1029.6 L598.77,1029.6 L599.23,1029.6 L599.7,1006.06 L600.2,986.23 L600.77,1029.6 L601.37,1003.54 L601.9,1029.6 L602.43,1000.96 L602.93,1008.35 L603.38,1029.6 L604,1029.6 L604.42,1016.54 L604.83,1029.6 L605.42,1029.6 L606.02,1029.6 L606.56,1029.6 L607.06,1006.26 L607.72,1009.1 L608.39,1029.6 L608.93,1029.6 L609.52,1029.6 L610.2,1029.6 L610.84,1017.45 L611.35,1018.92 L611.78,1011.91 L612.32,1029.6 L612.76,1029.6 L613.45,1029.6 L613.92,1006.29 L614.51,1029.6 L614.99,1029.6 L615.64,1002.98 L616.19,1010.29 L616.88,1005.84 L617.37,1002.59 L618.07,1029.6 L618.62,1029.6 L619.17,1029.6 L619.63,1021.12 L620.09,1029.6 L620.49,1029.6 L620.94,1007.61 L621.4,1029.6 L621.82,1017.33 L622.51,1017.33 L622.98,1029.6 L623.46,1029.6 L623.9,1007.53 L624.29,1029.6 L624.95,1012.04 L625.58,1007.37 L626.09,1000.13 L626.49,1029.6 L627.02,1029.6 L627.43,1029.6 L627.94,1005.07 L628.6,1007.68 L629.09,1029.6 L629.58,1014.31 L630.23,1029.6 L630.66,1029.6 L631.24,1029.6 L631.63,1029.6 L632.09,1029.6 L632.69,998.79 L633.32,1029.6 L634.01,1029.6 L634.59,1010.13 L635.13,1007.33 L635.75,1029.6 L636.19,1029.6 L636.76,1029.6 L637.39,1029.6 L637.93,983.7 L638.41,985.47 L639.02,1029.6 L639.49,1029.6 L640.08,993.56 L640.61,995.67 L641.03,991.57 L641.58,1029.6 L641.97,1029.6 L642.41,1029.6 L643.1,1029.6 L643.6,1009.84 L643.99,1029.6 L644.47,1005.96 L644.94,1029.6 L645.48,1029.6 L646.09,1007.68 L646.65,1020.28 L647.24,1029.6 L647.79,1004.3 L648.4,1029.6 L648.99,1013.42 L649.68,1014.61 L650.3,1029.6 L650.88,998.06 L651.52,1029.6 L652.06,990.99 L652.7,1029.6 L653.4,1029.6 L653.97,1005.66 L654.59,999.59 L655.23,1011.59 L655.88,1001.53 L656.42,1016.03 L657,1000" fill="none" stroke="#c00000" stroke-width="3.5" stroke-linejoin="round"/>
<path d="M145.3,1216.3 L145.76,1216.3 L146.37,1216.3 L146.87,1167.38 L147.39,1166.95 L147.85,1179.09 L148.42,1216.3 L148.84,1216.3 L149.34,1184.96 L149.93,1216.3 L150.5,1216.3 L150.94,1190.89 L151.41,1216.3 L151.84,1216.3 L152.28,1177.45 L152.89,1173.09 L153.36,1216.3 L153.71,1216.3 L154.34,1216.3 L154.87,1216.3 L155.39,1175.99 L155.74,1216.3 L156.25,1216.3 L156.63,1216.3 L157.26,1216.3 L157.72,1171.75 L158.25,1216.3 L158.78,1170.13 L159.3,1172.53 L159.73,1196.08 L160.11,1194.71 L160.54,1169.61 L161,1185.27 L161.58,1216.3 L162.03,1185.88 L162.52,1216.3 L163.16,1170.89 L163.75,1216.3 L164.23,1216.3 L164.72,1216.3 L165.09,1174.71 L165.68,1216.3 L166.26,1186.62 L166.83,1216.3 L167.4,1216.3 L167.82,1185.09 L168.28,1184.62 L168.83,1216.3 L169.43,1216.3 L169.8,1180.63 L170.43,1193.41 L170.78,1216.3 L171.2,1216.3 L171.73,1187.66 L172.12,1181.97 L172.5,1197.99 L172.87,1216.3 L173.43,1190.15 L174.04,1216.3 L174.61,1203.63 L175.11,1216.3 L175.47,1182.4 L176.01,1216.3 L176.6,1216.3 L176.95,1216.3 L177.44,1185.14 L177.84,1216.3 L178.47,1198.9 L178.83,1196.84 L179.34,1186.13 L179.97,1216.3 L180.51,1177.77 L181.08,1171.54 L181.64,1216.3 L182.13,1168.81 L182.67,1216.3 L183.28,1216.3 L183.88,1182.66 L184.49,1216.3 L185.02,1182.71 L185.49,1216.3 L185.9,1167.71 L186.27,1216.3 L186.76,1162.28 L187.34,1216.3 L187.92,1216.3 L188,1169.44 L188.5,1175.66 L189,1175.86 L189.5,1173.45 L190,1200 L190.5,1165.79 L191,1163.95 L191.5,1172.77 L192,1163.41 L192.5,1163.91 L193,1162.19 L193.5,1162.38 L194,1216.3 L194.5,1176.16 L195,1166.54 L195.5,1172.48 L196,1168.15 L196.5,1169.06 L197,1166.66 L197.5,1170.95 L198,1164.61 L198.5,1216.3 L199,1169.2 L199.5,1164.12 L200,1168.03 L200.5,1175.97 L201,1161.09 L201.5,1162.25 L202,1173.27 L202.5,1161.26 L203,1164.22 L203.5,1173.69 L204,1169.62 L204.5,1163.33 L205,1160.6 L205.5,1163.94 L206,1164.2 L206.5,1172.07 L207,1174.74 L207.5,1171.58 L208,1173.29 L208.5,1173.62 L209,1172.63 L209.5,1173.19 L210,1173.81 L210.5,1159.71 L211,1187 L211.5,1161.89 L212,1167.47 L212.5,1165.53 L213,1190 L213.5,1170.79 L214,1163.65 L214.5,1160.48 L215,1161.42 L215.5,1163.92 L216,1165.83 L216.5,1164.7 L217,1162.17 L217.5,1157.65 L218,1160.63 L218.5,1158.93 L219,1156 L219.5,1161.5 L220,1155.35 L220.5,1163.25 L221,1161.94 L221.5,1153.14 L222,1160.47 L222.5,1155.41 L223,1156.69 L223.5,1158.77 L224,1160.79 L224.5,1162.27 L225,1159.4 L225.5,1150.58 L226,1155.4 L226.5,1168 L227,1146.11 L227.5,1154.17 L228,1152.4 L228.5,1158.27 L229,1149.11 L229.5,1156.8 L230,1151.23 L230.5,1144.32 L231,1153.95 L231.5,1146.77 L232,1150.49 L232.5,1142.83 L233,1141.6 L233.5,1155.9 L234,1141.57 L234.5,1143.02 L235,1142.99 L235.5,1141.65 L236,1153.04 L236.5,1155.51 L237,1149.71 L237.5,1145.39 L238,1153.01 L238.5,1146.64 L239,1140.43 L239.5,1149.06 L240,1143.49 L240.5,1141.81 L241,1142.35 L241.5,1143.12 L242,1139.62 L242.5,1146.24 L243,1150.07 L243.5,1145.04 L244,1135.8 L244.5,1146.33 L245,1135.45 L245.5,1142.52 L246,1148.45 L246.5,1145.17 L247,1148.61 L247.5,1145.89 L248,1137.91 L248.5,1135.59 L249,1140.25 L249.5,1143.64 L250,1136.21 L250.5,1137.54 L251,1143.96 L251.5,1137.3 L252,1141.1 L252.5,1139.96 L253,1145.85 L253.5,1131.15 L254,1133.46 L254.5,1142.68 L255,1140.68 L255.5,1131.27 L256,1131.62 L256.5,1132.59 L257,1137.66 L257.5,1143.15 L258,1131.93 L258.5,1131.45 L259,1138.93 L259.5,1134.47 L260,1141 L260.5,1143.18 L261,1141.92 L261.5,1138.14 L262,1134.38 L262.5,1127.16 L263,1138.87 L263.5,1132.06 L264,1132.85 L264.5,1135.29 L265,1140.35 L265.5,1133.57 L266,1139.11 L266.5,1139.59 L267,1125.27 L267.5,1129.34 L268,1137.63 L268.5,1135.44 L269,1138.41 L269.5,1125.63 L270,1130.9 L270.5,1137.04 L271,1130.46 L271.5,1132.26 L272,1136.84 L272.5,1123.72 L273,1121.56 L273.5,1134.03 L274,1129.38 L274.5,1123 L275,1132.82 L275.5,1124.25 L276,1122 L276.5,1124.89 L277,1120.92 L277.5,1127.04 L278,1133.23 L278.5,1128.23 L279,1136.61 L279.5,1122.06 L280,1124.37 L280.5,1124.11 L281,1131.21 L281.5,1125.42 L282,1133.12 L282.5,1131.02 L283,1132.15 L283.5,1136.59 L284,1135.92 L284.5,1138.25 L285,1126.13 L285.5,1130.04 L286,1139.6 L286.5,1130.86 L287,1129.34 L287.5,1132.75 L288,1128.21 L288.5,1139.15 L289,1136.03 L289.5,1127.63 L290,1141.82 L290.5,1134.98 L291,1130.98 L291.5,1137 L292,1142.66 L292.5,1133.28 L293,1128.22 L293.5,1131.64 L294,1129.9 L294.5,1137.89 L295,1134.9 L295.5,1144.02 L296,1134.17 L296.5,1131.59 L297,1139.26 L297.5,1134.28 L298,1137.75 L298.5,1136.87 L299,1136.59 L299.5,1144.4 L300,1149.68 L300.5,1140.81 L301,1145.3 L301.5,1140.44 L302,1150.1 L302.5,1144.5 L303,1136.31 L303.5,1147.9 L304,1139.58 L304.5,1137.16 L305,1136.91 L305.5,1150.23 L306,1148.34 L306.5,1142.9 L307,1146.28 L307.5,1148.84 L308,1138.95 L308.5,1149.22 L309,1149.46 L309.5,1153.39 L310,1139.45 L310.5,1147.93 L311,1147.18 L311.5,1152.86 L312,1145.43 L312.5,1150.47 L313,1154.5 L313.5,1146.01 L314,1148.95 L314.5,1155.27 L315,1141.8 L315.5,1157.11 L316,1146.81 L316.5,1149.39 L317,1160 L317.5,1155.39 L318,1151.42 L318.5,1155.14 L319,1145.11 L319.5,1157.81 L320,1157.13 L320.5,1155.14 L321,1148.06 L321.5,1148.9 L322,1152.23 L322.5,1146.29 L323,1160.76 L323.5,1152.28 L324,1161.25 L324.5,1149.18 L325,1156.87 L325.5,1159.53 L326,1157.31 L326.5,1154.02 L327,1147.81 L327.5,1154.72 L328,1154.24 L328.5,1163.37 L329,1164.08 L329.5,1164.06 L330,1164.68 L330.5,1152.2 L331,1150.47 L331.5,1155.17 L332,1151.13 L332.5,1153.4 L333,1172 L333.5,1155.71 L334,1162.77 L334.5,1159.59 L335,1158.39 L335.5,1170.01 L336,1157.98 L336.5,1169.62 L337,1164.43 L337.5,1167.11 L338,1159.3 L338.5,1168.96 L339,1171.3 L339.5,1160.28 L340,1164.71 L340.5,1167.63 L341,1164.81 L341.5,1169.28 L342,1167.59 L342.5,1162.35 L343,1168.25 L343.5,1169.76 L344,1164.84 L344.5,1166.91 L345,1167.65 L345.5,1164.81 L346,1158.28 L346.5,1163.06 L347,1168.66 L347.5,1167.48 L348,1156.76 L348.5,1188 L349,1164.33 L349.5,1163.13 L350,1156.68 L350.5,1164.31 L351,1164.8 L351.5,1161.89 L352,1168.03 L352.5,1161.8 L353,1152.32 L353.5,1156.25 L354,1177 L354.5,1152.09 L355,1165.82 L355.5,1161.12 L356,1161.74 L356.5,1151.78 L357,1148.73 L357.5,1162.16 L358,1155.93 L358.5,1154.39 L359,1155.17 L359.5,1158.73 L360,1151.96 L360.5,1158.06 L361,1147.99 L361.5,1160.78 L362,1155.93 L362.5,1149.6 L363,1151.83 L363.5,1158 L364,1148.81 L364.5,1154.48 L365,1157.55 L365.5,1158.5 L366,1147.34 L366.5,1156.09 L367,1153.24 L367.5,1156.56 L368,1144.86 L368.5,1150.48 L369,1163 L369.5,1155.03 L370,1147.23 L370.5,1138.67 L372.5,1116 L374,1100 L374.9,1090 L377.9,1059 L378.6,1041 L379.4,1046 L380.2,1039 L381,1047 L381.8,1040 L382.6,1045 L383.4,1039 L384.2,1044 L385,1041 L385.8,1047 L386.6,1043 L387.4,1048 L388.2,1042 L389,1045 L389.8,1037 L391,980 L392,920 L392.8,898.9 L394,920 L396.2,980 L398.3,1035 L398.6,1042 L399.4,1038 L400.2,1044 L401,1040 L401.8,1046 L402.7,1045 L404.7,1098.7 L407.3,1162.3 L408.7,1198 L409,1216.3 L409.78,1190.68 L410.27,1203.75 L410.83,1177.75 L411.31,1171.73 L411.8,1168.83 L412.55,1175.64 L413.15,1216.3 L413.88,1197.59 L414.53,1182.36 L415.26,1216.3 L415.81,1175.23 L416.65,1171.89 L417.12,1169.56 L417.77,1199.79 L418.37,1199.95 L418.88,1216.3 L419.65,1204.93 L420.14,1216.3 L420.73,1179.43 L421.27,1203.04 L422.1,1174.23 L422.78,1216.3 L423.26,1174.53 L423.77,1167.94 L424.32,1216.3 L425.13,1170.38 L425.61,1167.94 L426.34,1188.52 L426.98,1174.6 L427.69,1216.3 L428.33,1216.3 L428.93,1187.19 L429.64,1161.62 L430.4,1195.02 L431.06,1203.83 L431.62,1216.3 L432.21,1216.3 L432.75,1216.3 L433.21,1161.3 L433.85,1193.01 L434.33,1169.41 L435.1,1185.22 L435.72,1170.09 L436.53,1216.3 L437.02,1216.3 L437.49,1168.69 L438.17,1216.3 L438.76,1184.91 L439.32,1166.56 L439.79,1198.39 L440.55,1201.94 L441.36,1168.11 L442.04,1192.08 L442.63,1216.3 L443.16,1216.3 L443.91,1184.37 L444.48,1180.59 L445.13,1216.3 L445.98,1181.8 L446.51,1181.84 L447.13,1175.79 L447.83,1166.87 L448.61,1216.3 L449.16,1166.28 L449.73,1203.53 L450.56,1216.3 L451.26,1184.26 L451.84,1216.3 L452.32,1216.3 L452.8,1187.88 L453.28,1205.69 L453.89,1200.79 L454.61,1169.67 L455.35,1164.03 L455.82,1216.3 L456.37,1216.3 L457.18,1171.07 L457.67,1216.3 L458.29,1165.39 L458.94,1216.3 L459.41,1169.03 L459.93,1181.28 L460.53,1194.92 L461.23,1193.96 L461.81,1162.34 L462.34,1216.3 L462.95,1178.92 L463.65,1216.3 L464.29,1202.82 L465.12,1178.3 L465.96,1200.29 L466.46,1216.3 L467.08,1216.3 L467.72,1177.9 L468.37,1216.3 L469.05,1168.37 L469.53,1197.47 L470.12,1216.3 L470.61,1185.92 L471.43,1185.51 L472.12,1201 L472.64,1216.3 L473.15,1216.3 L473.93,1181.74 L474.68,1188.59 L475.29,1172.78 L475.79,1216.3 L476.55,1197.07 L477.32,1216.3 L477.91,1216.3 L478.7,1216.3 L479.28,1186.81 L479.73,1216.3 L480.26,1216.3 L480.91,1216.3 L481.69,1187.1 L482.28,1162.34 L483.08,1216.3 L483.73,1187.69 L484.4,1159.63 L485.06,1185.12 L485.56,1160.84 L486.03,1216.3 L486.87,1216.3 L487.59,1216.3 L488.28,1216.3 L488.97,1187.11 L489.64,1156.65 L490.11,1216.3 L490.74,1157.57 L491.28,1170.92 L491.77,1216.3 L492.23,1216.3 L493.01,1216.3 L493.75,1216.3 L494.49,1156.62 L495.18,1190.34 L495.68,1189.61 L496.2,1183.63 L496.73,1194.05 L497.22,1181.9 L497.68,1197.55 L498.26,1197.44 L499.06,1159.23 L499.9,1216.3 L500.5,1216.3 L501.27,1176.05 L501.91,1181.86 L502.43,1167.61 L502.89,1160.38 L503.66,1175.5 L504.35,1216.3 L504.89,1190.35 L505.65,1158.46 L506.4,1171.43 L507.1,1216.3 L507.93,1160.49 L508.66,1177.51 L509.34,1188.8 L509.98,1187.05 L510.74,1192.63 L511.5,1179.75 L512.03,1191.73 L512.64,1216.3 L513.37,1188.59 L513.89,1192.4 L514.66,1216.3 L515.22,1160.32 L516.05,1216.3 L516.57,1171.14 L517.24,1169.89 L517.72,1200.29 L518.49,1216.3 L519.08,1162.84 L519.87,1205.24 L520.69,1175.29 L521.4,1162.49 L521.88,1166.4 L522.69,1173.55 L523.29,1191.91 L523.79,1178.52 L524.57,1201.96 L525.24,1208.01 L526.08,1187.2 L526.77,1176.13 L527.59,1209.05 L528.26,1205.89 L528.83,1216.3 L529.51,1180 L530.1,1216.3 L530.59,1188.71 L531.22,1185.03 L531.97,1188.44 L532.6,1216.3 L533.33,1209.8 L534.09,1192.63 L534.72,1196.8 L535.21,1193.52 L536,1195.43 L536.68,1206.9 L537.29,1209.73 L537.78,1198.68 L538.41,1216.3 L539.06,1216.3 L539.59,1196.4 L540.41,1203.01 L541.07,1216.3 L541.66,1216.3 L542.35,1216.3 L543.04,1216.3 L543.51,1216.3 L544.33,1199.62 L545,1200.73 L545.81,1205.76 L546.4,1216.3 L546.86,1173.44 L547.42,1187.6 L547.95,1212.32 L548.63,1216.16 L549.33,1202.73 L550.1,1216.3 L550.77,1216.3 L551.48,1216.3 L552.1,1178.9 L552.72,1216.3 L553.41,1187.25 L554.09,1216.3 L554.64,1202 L555.44,1196.38 L555.99,1211.74 L556.76,1202.3 L557.37,1190.67 L558.1,1187.98 L558.84,1216.3 L559.33,1216.3 L559.89,1192.46 L560,1216.14 L560.5,1213.7 L561,1201.44 L561.5,1216.3 L562,1201.81 L562.5,1216.3 L563,1202.81 L563.5,1216.3 L564,1202.67 L564.5,1216.3 L565,1203.42 L565.5,1216.3 L566,1172.2 L566.5,1216.3 L567,1175.57 L567.5,1216.3 L568,1172.25 L568.5,1216.3 L569,1172.98 L569.5,1216.3 L570,1173.69 L570.5,1216.3 L571,1205.07 L571.5,1216.3 L572,1206.37 L572.5,1216.3 L573,1202.2 L573.5,1216.3 L574,1202.18 L574.5,1216.3 L575,1204.47 L575.5,1216.3 L576,1203.38 L576.5,1216.3 L577,1206.3 L577.5,1216.3 L578,1194.88 L578.5,1216.3 L579,1195.43 L579.5,1216.3 L580,1195.92 L580.5,1216.3 L581,1195.77 L581.5,1215.58 L582,1214.6 L582.5,1215.91 L583,1214.67 L583.5,1214.2 L584,1180.8 L584.5,1216.3 L585,1182.89 L585.5,1216.3 L586,1179.25 L586.5,1216.3 L587,1179.55 L587.5,1216.3 L588,1182.41 L588.5,1216.3 L589,1181.79 L589.5,1216.3 L590,1178.11 L590.5,1216.3 L591,1179.37 L591.5,1216.3 L592,1181.65 L592.5,1216.3 L593,1177.36 L593.5,1216.3 L594,1181.89 L594.5,1216.3 L595,1182.37 L595.5,1214.36 L596,1215.94 L596.5,1214.64 L597,1215.84 L597.5,1213.63 L598,1193.5 L598.5,1216.3 L599,1192.31 L599.5,1216.3 L600,1194.71 L600.5,1216.3 L601,1193.42 L601.5,1216.3 L602,1213.71 L602.5,1215.76 L603,1215.94 L603.5,1215.18 L604,1214.98 L604.5,1214.68 L605,1213.41 L605.5,1216.3 L606,1192.39 L606.5,1216.3 L607,1195.25 L607.5,1216.3 L608,1190.79 L608.5,1216.3 L609,1214.86 L609.5,1213.63 L610,1213.79 L610.5,1214.37 L611,1216.04 L611.5,1213.3 L612,1215.22 L612.5,1214.31 L613,1216 L613.5,1216 L614,1215.06 L614.5,1213.93 L615,1214.03 L615.5,1215.14 L616,1215.53 L616.5,1214.57 L617,1214.97 L617.5,1215.55 L618,1215.92 L618.5,1216.13 L619,1196.53 L619.5,1216.3 L620,1200.66 L620.5,1216.3 L621,1201.73 L621.5,1216.3 L622,1200.82 L622.5,1216.3 L623,1214.29 L623.5,1214.96 L624,1215.47 L624.5,1214.86 L625,1215.09 L625.5,1213.81 L626,1213.42 L626.5,1215.09 L627,1215.47 L627.5,1214.11 L628,1188.53 L628.5,1216.3 L629,1188.82 L629.5,1216.3 L630,1188.88 L630.5,1216.3 L631,1187.77 L631.5,1216.3 L632,1187.98 L632.5,1216.3 L633,1185.83 L633.5,1216.3 L634,1187.16 L634.5,1216.3 L635,1184.29 L635.5,1216.3 L636,1188.97 L636.5,1216.3 L637,1215.59 L637.5,1214 L638,1213.94 L638.5,1213.67 L639,1215.19 L639.5,1214.84 L640,1216.25 L640.5,1213.67 L641,1198.47 L641.5,1216.3 L642,1195.85 L642.5,1216.3 L643,1197.04 L643.5,1216.3 L644,1197.32 L644.5,1216.3 L645,1197.85 L645.5,1216.3 L646,1215.38 L646.5,1215.5 L647,1214.73 L647.5,1214.04 L648,1214.89 L648.5,1214.96 L649,1197.3 L649.5,1216.3 L650,1200.63 L650.5,1216.3 L651,1199.56 L651.5,1216.3 L652,1199.15 L652.5,1216.3 L653,1195.35 L653.5,1216.3 L654,1199.57 L654.5,1216.3 L655,1197.6 L655.5,1216.3 L656,1199.16 L656.5,1216.3" fill="none" stroke="#000000" stroke-width="3.5" stroke-linejoin="round"/>
<line x1="145.3" y1="708.6" x2="145.3" y2="1254.2" stroke="#000" stroke-width="2.3" stroke-linecap="butt"/>
<line x1="134" y1="708.6" x2="658.15" y2="708.6" stroke="#000" stroke-width="2.3" stroke-linecap="butt"/>
<line x1="657" y1="708.6" x2="657" y2="1254.2" stroke="#000" stroke-width="2.3" stroke-linecap="butt"/>
<line x1="134" y1="1243.2" x2="658.15" y2="1243.2" stroke="#000" stroke-width="2.3" stroke-linecap="butt"/>
<line x1="134" y1="762.06" x2="145.3" y2="762.06" stroke="#000" stroke-width="2.3" stroke-linecap="butt"/>
<line x1="134" y1="815.52" x2="145.3" y2="815.52" stroke="#000" stroke-width="2.3" stroke-linecap="butt"/>
<line x1="134" y1="868.98" x2="145.3" y2="868.98" stroke="#000" stroke-width="2.3" stroke-linecap="butt"/>
<line x1="134" y1="922.44" x2="145.3" y2="922.44" stroke="#000" stroke-width="2.3" stroke-linecap="butt"/>
<line x1="134" y1="975.9" x2="145.3" y2="975.9" stroke="#000" stroke-width="2.3" stroke-linecap="butt"/>
<line x1="134" y1="1029.36" x2="145.3" y2="1029.36" stroke="#000" stroke-width="2.3" stroke-linecap="butt"/>
<line x1="134" y1="1082.82" x2="145.3" y2="1082.82" stroke="#000" stroke-width="2.3" stroke-linecap="butt"/>
<line x1="134" y1="1136.28" x2="145.3" y2="1136.28" stroke="#000" stroke-width="2.3" stroke-linecap="butt"/>
<line x1="134" y1="1189.74" x2="145.3" y2="1189.74" stroke="#000" stroke-width="2.3" stroke-linecap="butt"/>
<line x1="401.15" y1="1243.2" x2="401.15" y2="1254.2" stroke="#000" stroke-width="2.3" stroke-linecap="butt"/>
<rect x="150" y="712" width="412" height="92" fill="#fff" fill-opacity="0"/>
<line x1="152.6" y1="727.1" x2="201" y2="727.1" stroke="#c00000" stroke-width="3.2" stroke-linecap="butt"/>
<text x="205.2" y="738.8" font-size="38.3" text-anchor="start" font-family='"Liberation Serif", serif' letter-spacing="0.15">500Hz</text>
<text x="318.5" y="738.8" font-size="38.3" text-anchor="start" font-family='"Liberation Serif", serif' letter-spacing="0.47">(+30</text>
<text x="402.8" y="738.8" font-size="38.3" text-anchor="start" font-family='"Liberation Serif", serif'>dB</text>
<text x="458.4" y="738.8" font-size="38.3" text-anchor="start" font-family='"Liberation Serif", serif' letter-spacing="0.35">offset)</text>
<line x1="152.6" y1="781.8" x2="201" y2="781.8" stroke="#000" stroke-width="3.2" stroke-linecap="butt"/>
<text x="207.3" y="794.4" font-size="38.3" text-anchor="start" font-family='"Liberation Serif", serif'>100Hz</text>
<text x="112.4" y="721.5" font-size="38.3" text-anchor="end" font-family='"Liberation Serif", serif'>0</text>
<text x="112.4" y="774.96" font-size="38.3" text-anchor="end" font-family='"Liberation Serif", serif'>-10</text>
<text x="112.4" y="828.42" font-size="38.3" text-anchor="end" font-family='"Liberation Serif", serif'>-20</text>
<text x="112.4" y="881.88" font-size="38.3" text-anchor="end" font-family='"Liberation Serif", serif'>-30</text>
<text x="112.4" y="935.34" font-size="38.3" text-anchor="end" font-family='"Liberation Serif", serif'>-40</text>
<text x="112.4" y="988.8" font-size="38.3" text-anchor="end" font-family='"Liberation Serif", serif'>-50</text>
<text x="112.4" y="1042.26" font-size="38.3" text-anchor="end" font-family='"Liberation Serif", serif'>-60</text>
<text x="112.4" y="1095.72" font-size="38.3" text-anchor="end" font-family='"Liberation Serif", serif'>-70</text>
<text x="112.4" y="1149.18" font-size="38.3" text-anchor="end" font-family='"Liberation Serif", serif'>-80</text>
<text x="112.4" y="1202.64" font-size="38.3" text-anchor="end" font-family='"Liberation Serif", serif'>-90</text>
<text x="112.4" y="1256.1" font-size="38.3" text-anchor="end" font-family='"Liberation Serif", serif'>-100</text>
<text x="145.3" y="1301.5" font-size="38.3" text-anchor="middle" font-family='"Liberation Serif", serif'>1530</text>
<text x="401.15" y="1301.5" font-size="38.3" text-anchor="middle" font-family='"Liberation Serif", serif'>1540</text>
<text x="657" y="1301.5" font-size="38.3" text-anchor="middle" font-family='"Liberation Serif", serif'>1550</text>
<text x="268.6" y="1339.7" font-size="38.3" text-anchor="start" font-family='"Liberation Serif", serif' letter-spacing="-0.72">Wavelength</text>
<text x="461.1" y="1339.7" font-size="38.3" text-anchor="start" font-family='"Liberation Serif", serif'>(nm)</text>
<g transform="translate(39,1154) rotate(-90)">
<text x="0" y="0" font-size="38.3" text-anchor="start" font-family='"Liberation Serif", serif' letter-spacing="-0.08">Relative intensity</text>
</g>
<g transform="translate(39,870.5) rotate(-90)">
<text x="0" y="0" font-size="38.3" text-anchor="start" font-family='"Liberation Serif", serif'>(dB)</text>
</g>
<text x="0.6" y="715.2" font-size="33" text-anchor="start" font-family='"Liberation Sans", sans-serif'>(b)</text>
<line x1="160.4" y1="1568.16" x2="664.6" y2="1568.16" stroke="#efefef" stroke-width="2.0" stroke-linecap="butt"/>
<line x1="160.4" y1="1547.62" x2="664.6" y2="1547.62" stroke="#efefef" stroke-width="2.0" stroke-linecap="butt"/>
<line x1="160.4" y1="1527.08" x2="664.6" y2="1527.08" stroke="#efefef" stroke-width="2.0" stroke-linecap="butt"/>
<line x1="160.4" y1="1506.54" x2="664.6" y2="1506.54" stroke="#efefef" stroke-width="2.0" stroke-linecap="butt"/>
<line x1="160.4" y1="1465.46" x2="664.6" y2="1465.46" stroke="#efefef" stroke-width="2.0" stroke-linecap="butt"/>
<line x1="160.4" y1="1444.92" x2="664.6" y2="1444.92" stroke="#efefef" stroke-width="2.0" stroke-linecap="butt"/>
<line x1="160.4" y1="1424.38" x2="664.6" y2="1424.38" stroke="#efefef" stroke-width="2.0" stroke-linecap="butt"/>
<line x1="160.4" y1="1403.84" x2="664.6" y2="1403.84" stroke="#efefef" stroke-width="2.0" stroke-linecap="butt"/>
<line x1="160.4" y1="1486" x2="664.6" y2="1486" stroke="#d6d6d6" stroke-width="2.0" stroke-linecap="butt"/>
<line x1="210.82" y1="1383.3" x2="210.82" y2="1588.7" stroke="#efefef" stroke-width="2.0" stroke-linecap="butt"/>
<line x1="261.24" y1="1383.3" x2="261.24" y2="1588.7" stroke="#efefef" stroke-width="2.0" stroke-linecap="butt"/>
<line x1="311.66" y1="1383.3" x2="311.66" y2="1588.7" stroke="#efefef" stroke-width="2.0" stroke-linecap="butt"/>
<line x1="362.08" y1="1383.3" x2="362.08" y2="1588.7" stroke="#efefef" stroke-width="2.0" stroke-linecap="butt"/>
<line x1="462.92" y1="1383.3" x2="462.92" y2="1588.7" stroke="#efefef" stroke-width="2.0" stroke-linecap="butt"/>
<line x1="513.34" y1="1383.3" x2="513.34" y2="1588.7" stroke="#efefef" stroke-width="2.0" stroke-linecap="butt"/>
<line x1="563.76" y1="1383.3" x2="563.76" y2="1588.7" stroke="#efefef" stroke-width="2.0" stroke-linecap="butt"/>
<line x1="614.18" y1="1383.3" x2="614.18" y2="1588.7" stroke="#efefef" stroke-width="2.0" stroke-linecap="butt"/>
<line x1="412.5" y1="1383.3" x2="412.5" y2="1588.7" stroke="#d6d6d6" stroke-width="2.0" stroke-linecap="butt"/>
<line x1="160.4" y1="1383.3" x2="160.4" y2="1600.2" stroke="#000" stroke-width="2.3" stroke-linecap="butt"/>
<line x1="149.9" y1="1383.3" x2="665.75" y2="1383.3" stroke="#000" stroke-width="2.3" stroke-linecap="butt"/>
<line x1="664.6" y1="1383.3" x2="664.6" y2="1600.2" stroke="#000" stroke-width="2.3" stroke-linecap="butt"/>
<line x1="149.9" y1="1588.7" x2="665.75" y2="1588.7" stroke="#000" stroke-width="2.3" stroke-linecap="butt"/>
<line x1="149.9" y1="1486" x2="160.4" y2="1486" stroke="#000" stroke-width="2.3" stroke-linecap="butt"/>
<line x1="412.5" y1="1588.7" x2="412.5" y2="1600.2" stroke="#000" stroke-width="2.3" stroke-linecap="butt"/>
<circle cx="262.5" cy="1498.9" r="12.6" fill="#5b9bd5"/>
<circle cx="312.9" cy="1435" r="12.6" fill="#5b9bd5"/>
<circle cx="463.5" cy="1473.5" r="12.6" fill="#5b9bd5"/>
<circle cx="665.3" cy="1576.3" r="12.6" fill="#5b9bd5"/>
<text x="128" y="1396.3" font-size="38.3" text-anchor="end" font-family='"Liberation Serif", serif'>30</text>
<text x="128" y="1499" font-size="38.3" text-anchor="end" font-family='"Liberation Serif", serif'>27.5</text>
<text x="128" y="1601.7" font-size="38.3" text-anchor="end" font-family='"Liberation Serif", serif'>25</text>
<text x="160.4" y="1646.7" font-size="38.3" text-anchor="middle" font-family='"Liberation Serif", serif'>0</text>
<text x="412.5" y="1646.7" font-size="38.3" text-anchor="middle" font-family='"Liberation Serif", serif'>250</text>
<text x="664.6" y="1646.7" font-size="38.3" text-anchor="middle" font-family='"Liberation Serif", serif'>500</text>
<text x="257.6" y="1698.2" font-size="38.3" text-anchor="start" font-family='"Liberation Serif", serif' letter-spacing="-0.36">Repetition</text>
<text x="429.3" y="1698.2" font-size="38.3" text-anchor="start" font-family='"Liberation Serif", serif' letter-spacing="-0.51">rate (Hz)</text>
<g transform="translate(43.9,1563.7) rotate(-90)">
<text x="0" y="0" font-size="38.3" text-anchor="start" font-family='"Liberation Serif", serif' letter-spacing="-0.45">SNR</text>
</g>
<g transform="translate(43.9,1478.6) rotate(-90)">
<text x="0" y="0" font-size="38.3" text-anchor="start" font-family='"Liberation Serif", serif'>(dB)</text>
</g>
<text x="2.15" y="1387" font-size="33" text-anchor="start" font-family='"Liberation Sans", sans-serif'>(c)</text>
</svg>
</body></html>
